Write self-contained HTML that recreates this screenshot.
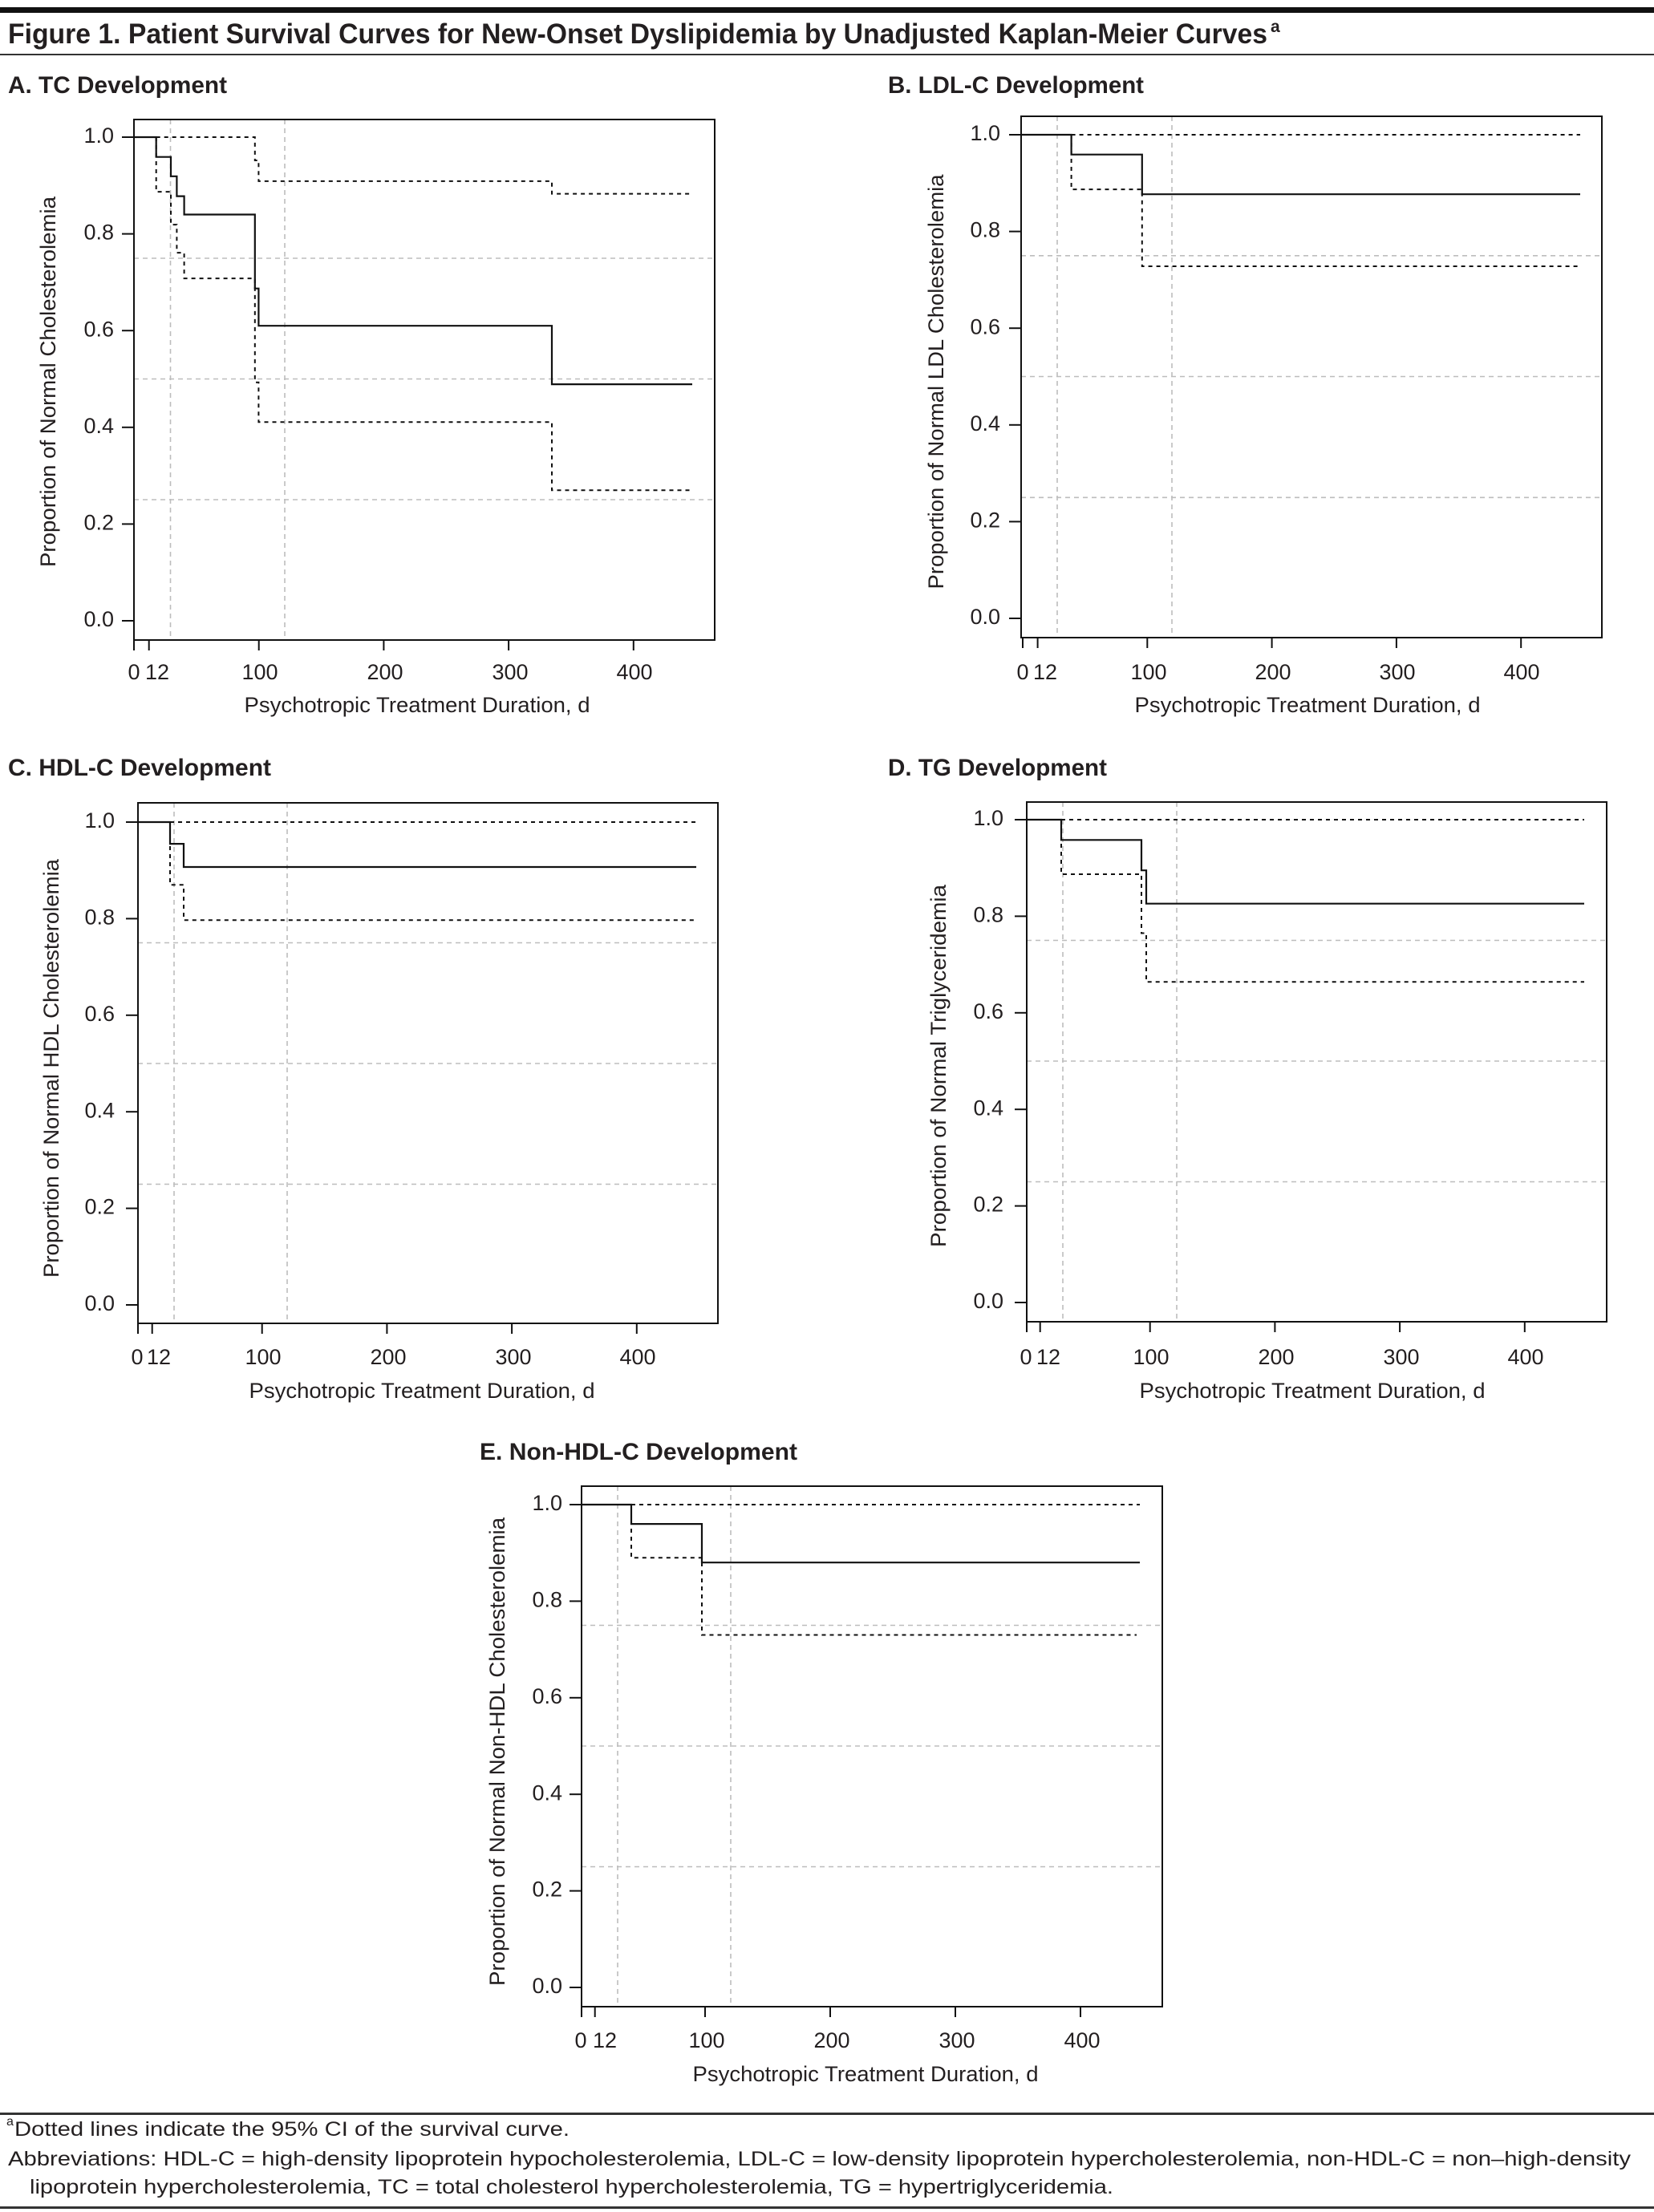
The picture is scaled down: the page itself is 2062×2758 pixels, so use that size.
<!DOCTYPE html>
<html><head><meta charset="utf-8"><style>
html,body{margin:0;padding:0;background:#fff;}
svg{display:block;}
text{font-family:"Liberation Sans",sans-serif;fill:#231f20;}
.t{font-size:27px;}
.h{font-size:30px;font-weight:bold;}
.g{stroke:#bdbdbd;stroke-width:1.6;stroke-dasharray:6 5;fill:none;}
.s{stroke:#111;stroke-width:2.2;fill:none;}
.d{stroke:#111;stroke-width:2;stroke-dasharray:5 5;fill:none;}
.f{stroke:#111;stroke-width:2;fill:none;}
.k{stroke:#111;stroke-width:2;}
</style></head><body>
<svg width="2062" height="2758" viewBox="0 0 2062 2758" xmlns="http://www.w3.org/2000/svg">
<rect x="0" y="9" width="2062" height="7" fill="#111"/>
<rect x="0" y="67" width="2062" height="2" fill="#333"/>
<text x="10" y="54" font-size="35" font-weight="bold" textLength="1570" lengthAdjust="spacingAndGlyphs">Figure 1. Patient Survival Curves for New-Onset Dyslipidemia by Unadjusted Kaplan-Meier Curves</text>
<text x="1584" y="40" font-size="21" font-weight="bold">a</text>

<!-- Panel A -->
<text class="h" x="10" y="116" textLength="273" lengthAdjust="spacingAndGlyphs">A. TC Development</text>
<g>
<line class="g" x1="212.5" y1="149" x2="212.5" y2="798"/><line class="g" x1="355" y1="149" x2="355" y2="798"/>
<line class="g" x1="167" y1="322" x2="891" y2="322"/><line class="g" x1="167" y1="472.5" x2="891" y2="472.5"/><line class="g" x1="167" y1="623" x2="891" y2="623"/>
<rect class="f" x="167" y="149" width="724" height="649"/>
<path class="s" d="M167 171 H194.7 V195.7 H213 V219.8 H220.4 V244.6 H229.6 V267.5 H317.8 V359.7 H322.4 V406.2 H688 V479.1 H863"/>
<path class="d" d="M194.7 171 V239.1 H213 V280.1 H220.4 V315.1 H229.6 V347.1 H317.8 V476.7 H322.4 V526.2 H688 V611.2 H863"/>
<path class="d" d="M194.7 171 H317.8 V200 H322.4 V225.9 H688 V241.6 H863"/>
<g class="k"><line x1="152" y1="774" x2="167" y2="774"/><line x1="152" y1="653.4" x2="167" y2="653.4"/><line x1="152" y1="532.8" x2="167" y2="532.8"/><line x1="152" y1="412.2" x2="167" y2="412.2"/><line x1="152" y1="291.6" x2="167" y2="291.6"/><line x1="152" y1="171" x2="167" y2="171"/>
<line x1="167" y1="798" x2="167" y2="811"/><line x1="185.7" y1="798" x2="185.7" y2="811"/><line x1="322.7" y1="798" x2="322.7" y2="811"/><line x1="478.4" y1="798" x2="478.4" y2="811"/><line x1="634.1" y1="798" x2="634.1" y2="811"/><line x1="789.8" y1="798" x2="789.8" y2="811"/></g>
<g class="t" text-anchor="end" dominant-baseline="middle"><text x="142" y="774">0.0</text><text x="142" y="653.4">0.2</text><text x="142" y="532.8">0.4</text><text x="142" y="412.2">0.6</text><text x="142" y="291.6">0.8</text><text x="142" y="171">1.0</text></g>
<g class="t" text-anchor="middle" dominant-baseline="middle"><text x="167" y="840">0</text><text x="196" y="840">12</text><text x="324" y="840">100</text><text x="480" y="840">200</text><text x="636" y="840">300</text><text x="791" y="840">400</text>
<text x="520" y="881" textLength="431" lengthAdjust="spacingAndGlyphs">Psychotropic Treatment Duration, d</text>
<text transform="translate(62,476) rotate(-90)" textLength="462" lengthAdjust="spacingAndGlyphs">Proportion of Normal Cholesterolemia</text></g>
</g>

<!-- Panel B -->
<text class="h" x="1107" y="116" textLength="319" lengthAdjust="spacingAndGlyphs">B. LDL-C Development</text>
<g>
<line class="g" x1="1318" y1="145" x2="1318" y2="795"/><line class="g" x1="1461" y1="145" x2="1461" y2="795"/>
<line class="g" x1="1273" y1="318.8" x2="1997" y2="318.8"/><line class="g" x1="1273" y1="469.5" x2="1997" y2="469.5"/><line class="g" x1="1273" y1="620.3" x2="1997" y2="620.3"/>
<rect class="f" x="1273" y="145" width="724" height="650"/>
<path class="s" d="M1273 168 H1335.6 V192.7 H1423.8 V242.2 H1970"/>
<path class="d" d="M1335.6 168 V236.1 H1423.8 V332 H1970"/>
<path class="d" d="M1335.6 168 H1970"/>
<g class="k"><line x1="1258" y1="771" x2="1273" y2="771"/><line x1="1258" y1="650.4" x2="1273" y2="650.4"/><line x1="1258" y1="529.8" x2="1273" y2="529.8"/><line x1="1258" y1="409.2" x2="1273" y2="409.2"/><line x1="1258" y1="288.6" x2="1273" y2="288.6"/><line x1="1258" y1="168" x2="1273" y2="168"/>
<line x1="1275" y1="795" x2="1275" y2="808"/><line x1="1293.6" y1="795" x2="1293.6" y2="808"/><line x1="1430.3" y1="795" x2="1430.3" y2="808"/><line x1="1585.6" y1="795" x2="1585.6" y2="808"/><line x1="1740.9" y1="795" x2="1740.9" y2="808"/><line x1="1896.2" y1="795" x2="1896.2" y2="808"/></g>
<g class="t" text-anchor="end" dominant-baseline="middle"><text x="1247" y="771">0.0</text><text x="1247" y="650.4">0.2</text><text x="1247" y="529.8">0.4</text><text x="1247" y="409.2">0.6</text><text x="1247" y="288.6">0.8</text><text x="1247" y="168">1.0</text></g>
<g class="t" text-anchor="middle" dominant-baseline="middle"><text x="1275" y="840">0</text><text x="1303" y="840">12</text><text x="1432" y="840">100</text><text x="1587" y="840">200</text><text x="1742" y="840">300</text><text x="1897" y="840">400</text>
<text x="1630" y="881" textLength="431" lengthAdjust="spacingAndGlyphs">Psychotropic Treatment Duration, d</text>
<text transform="translate(1169,476) rotate(-90)" textLength="517" lengthAdjust="spacingAndGlyphs">Proportion of Normal LDL Cholesterolemia</text></g>
</g>

<!-- Panel C -->
<text class="h" x="10" y="967" textLength="328" lengthAdjust="spacingAndGlyphs">C. HDL-C Development</text>
<g>
<line class="g" x1="217" y1="1001" x2="217" y2="1650"/><line class="g" x1="358" y1="1001" x2="358" y2="1650"/>
<line class="g" x1="172" y1="1175.5" x2="895" y2="1175.5"/><line class="g" x1="172" y1="1326" x2="895" y2="1326"/><line class="g" x1="172" y1="1476.5" x2="895" y2="1476.5"/>
<rect class="f" x="172" y="1001" width="723" height="649"/>
<path class="s" d="M172 1025 H212 V1052.1 H229 V1081 H868"/>
<path class="d" d="M212 1025 V1103.3 H229 V1147.2 H868"/>
<path class="d" d="M212 1025 H868"/>
<g class="k"><line x1="157" y1="1627" x2="172" y2="1627"/><line x1="157" y1="1506.6" x2="172" y2="1506.6"/><line x1="157" y1="1386.2" x2="172" y2="1386.2"/><line x1="157" y1="1265.8" x2="172" y2="1265.8"/><line x1="157" y1="1145.4" x2="172" y2="1145.4"/><line x1="157" y1="1025" x2="172" y2="1025"/>
<line x1="172" y1="1650" x2="172" y2="1663"/><line x1="189.7" y1="1650" x2="189.7" y2="1663"/><line x1="326.7" y1="1650" x2="326.7" y2="1663"/><line x1="482.4" y1="1650" x2="482.4" y2="1663"/><line x1="638.1" y1="1650" x2="638.1" y2="1663"/><line x1="793.8" y1="1650" x2="793.8" y2="1663"/></g>
<g class="t" text-anchor="end" dominant-baseline="middle"><text x="143" y="1627">0.0</text><text x="143" y="1506.6">0.2</text><text x="143" y="1386.2">0.4</text><text x="143" y="1265.8">0.6</text><text x="143" y="1145.4">0.8</text><text x="143" y="1025">1.0</text></g>
<g class="t" text-anchor="middle" dominant-baseline="middle"><text x="171" y="1694">0</text><text x="198" y="1694">12</text><text x="328" y="1694">100</text><text x="484" y="1694">200</text><text x="640" y="1694">300</text><text x="795" y="1694">400</text>
<text x="526" y="1736" textLength="431" lengthAdjust="spacingAndGlyphs">Psychotropic Treatment Duration, d</text>
<text transform="translate(66,1332) rotate(-90)" textLength="522" lengthAdjust="spacingAndGlyphs">Proportion of Normal HDL Cholesterolemia</text></g>
</g>

<!-- Panel D -->
<text class="h" x="1107" y="967" textLength="273" lengthAdjust="spacingAndGlyphs">D. TG Development</text>
<g>
<line class="g" x1="1325" y1="1000" x2="1325" y2="1648"/><line class="g" x1="1467" y1="1000" x2="1467" y2="1648"/>
<line class="g" x1="1280" y1="1172.5" x2="2003" y2="1172.5"/><line class="g" x1="1280" y1="1323" x2="2003" y2="1323"/><line class="g" x1="1280" y1="1473.5" x2="2003" y2="1473.5"/>
<rect class="f" x="1280" y="1000" width="723" height="648"/>
<path class="s" d="M1280 1022 H1323 V1047.3 H1423 V1085.2 H1429 V1126.7 H1975"/>
<path class="d" d="M1323 1022 V1090 H1423 V1163.5 H1429 V1224.3 H1975"/>
<path class="d" d="M1323 1022 H1975"/>
<g class="k"><line x1="1265" y1="1624" x2="1280" y2="1624"/><line x1="1265" y1="1503.6" x2="1280" y2="1503.6"/><line x1="1265" y1="1383.2" x2="1280" y2="1383.2"/><line x1="1265" y1="1262.8" x2="1280" y2="1262.8"/><line x1="1265" y1="1142.4" x2="1280" y2="1142.4"/><line x1="1265" y1="1022" x2="1280" y2="1022"/>
<line x1="1280" y1="1648" x2="1280" y2="1661"/><line x1="1296.7" y1="1648" x2="1296.7" y2="1661"/><line x1="1433.7" y1="1648" x2="1433.7" y2="1661"/><line x1="1589.4" y1="1648" x2="1589.4" y2="1661"/><line x1="1745.1" y1="1648" x2="1745.1" y2="1661"/><line x1="1900.8" y1="1648" x2="1900.8" y2="1661"/></g>
<g class="t" text-anchor="end" dominant-baseline="middle"><text x="1251" y="1624">0.0</text><text x="1251" y="1503.6">0.2</text><text x="1251" y="1383.2">0.4</text><text x="1251" y="1262.8">0.6</text><text x="1251" y="1142.4">0.8</text><text x="1251" y="1022">1.0</text></g>
<g class="t" text-anchor="middle" dominant-baseline="middle"><text x="1279" y="1694">0</text><text x="1307" y="1694">12</text><text x="1435" y="1694">100</text><text x="1591" y="1694">200</text><text x="1747" y="1694">300</text><text x="1902" y="1694">400</text>
<text x="1636" y="1736" textLength="431" lengthAdjust="spacingAndGlyphs">Psychotropic Treatment Duration, d</text>
<text transform="translate(1172,1329) rotate(-90)" textLength="452" lengthAdjust="spacingAndGlyphs">Proportion of Normal Triglyceridemia</text></g>
</g>

<!-- Panel E -->
<text class="h" x="598" y="1820" textLength="396" lengthAdjust="spacingAndGlyphs">E. Non-HDL-C Development</text>
<g>
<line class="g" x1="770" y1="1853" x2="770" y2="2502"/><line class="g" x1="911" y1="1853" x2="911" y2="2502"/>
<line class="g" x1="725" y1="2026.5" x2="1449" y2="2026.5"/><line class="g" x1="725" y1="2177" x2="1449" y2="2177"/><line class="g" x1="725" y1="2327.5" x2="1449" y2="2327.5"/>
<rect class="f" x="725" y="1853" width="724" height="649"/>
<path class="s" d="M725 1876 H787 V1900.1 H875 V1948.2 H1421"/>
<path class="d" d="M787 1876 V1942.2 H875 V2038.5 H1417"/>
<path class="d" d="M787 1876 H1421"/>
<g class="k"><line x1="710" y1="2478" x2="725" y2="2478"/><line x1="710" y1="2357.6" x2="725" y2="2357.6"/><line x1="710" y1="2237.2" x2="725" y2="2237.2"/><line x1="710" y1="2116.8" x2="725" y2="2116.8"/><line x1="710" y1="1996.4" x2="725" y2="1996.4"/><line x1="710" y1="1876" x2="725" y2="1876"/>
<line x1="725" y1="2502" x2="725" y2="2515"/><line x1="741.7" y1="2502" x2="741.7" y2="2515"/><line x1="879" y1="2502" x2="879" y2="2515"/><line x1="1035" y1="2502" x2="1035" y2="2515"/><line x1="1191" y1="2502" x2="1191" y2="2515"/><line x1="1347" y1="2502" x2="1347" y2="2515"/></g>
<g class="t" text-anchor="end" dominant-baseline="middle"><text x="701" y="2478">0.0</text><text x="701" y="2357.6">0.2</text><text x="701" y="2237.2">0.4</text><text x="701" y="2116.8">0.6</text><text x="701" y="1996.4">0.8</text><text x="701" y="1876">1.0</text></g>
<g class="t" text-anchor="middle" dominant-baseline="middle"><text x="724" y="2546">0</text><text x="754" y="2546">12</text><text x="881" y="2546">100</text><text x="1037" y="2546">200</text><text x="1193" y="2546">300</text><text x="1349" y="2546">400</text>
<text x="1079" y="2588" textLength="431" lengthAdjust="spacingAndGlyphs">Psychotropic Treatment Duration, d</text>
<text transform="translate(622,2184) rotate(-90)" textLength="584" lengthAdjust="spacingAndGlyphs">Proportion of Normal Non-HDL Cholesterolemia</text></g>
</g>

<!-- Footer -->
<rect x="0" y="2634" width="2062" height="3" fill="#333"/>
<text x="8" y="2650" font-size="16">a</text>
<text x="18" y="2663" font-size="25" textLength="692" lengthAdjust="spacingAndGlyphs">Dotted lines indicate the 95% CI of the survival curve.</text>
<text x="10" y="2700" font-size="25" textLength="2023" lengthAdjust="spacingAndGlyphs">Abbreviations: HDL-C = high-density lipoprotein hypocholesterolemia, LDL-C = low-density lipoprotein hypercholesterolemia, non-HDL-C = non–high-density</text>
<text x="37" y="2735" font-size="25" textLength="1351" lengthAdjust="spacingAndGlyphs">lipoprotein hypercholesterolemia, TC = total cholesterol hypercholesterolemia, TG = hypertriglyceridemia.</text>
<rect x="0" y="2751" width="2062" height="3" fill="#333"/>
</svg>
</body></html>
